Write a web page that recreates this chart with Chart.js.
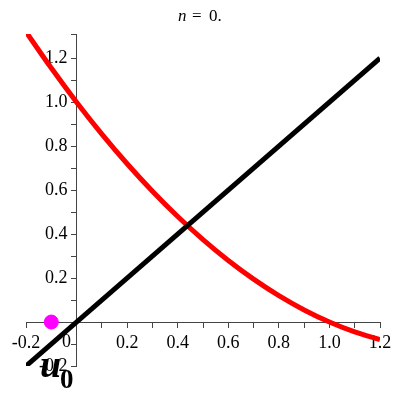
<!DOCTYPE html>
<html>
<head>
<meta charset="utf-8">
<script src="https://cdn.jsdelivr.net/npm/chart.js@4"></script>
<style>
  html, body { margin: 0; padding: 0; background: #fff; }
  #wrap { width: 400px; height: 400px; }
</style>
</head>
<body>
<div id="wrap"><canvas id="chart"></canvas></div>
<script>
// values
const curveX = [-0.2, -0.1, 0, 0.1, 0.2, 0.3, 0.4, 0.5, 0.6, 0.7, 0.8, 0.9, 1.0, 1.1, 1.2];
const curveY = [1.32, 1.155, 1.0, 0.855, 0.72, 0.595, 0.48, 0.375, 0.28, 0.195, 0.12, 0.055, 0.0, -0.045, -0.08];
const diagX = [-0.2, 1.2];
const diagY = [-0.2, 1.2];
const startPoint = [-0.1, 0];
const xTickLabels = ["-0.2", "0.2", "0.4", "0.6", "0.8", "1.0", "1.2"];
const yTickLabels = ["-0.2", "0.2", "0.4", "0.6", "0.8", "1.0", "1.2"];

const serif = "'Liberation Serif', 'DejaVu Serif', serif";

function tickLabel(list, pad) {
  return function(value) {
    let s = value.toFixed(1);
    if (s === "-0.0") s = "0.0";
    // y labels sit flush on the axis, so pad them with spaces
    return list.includes(s) ? s + pad : "";
  };
}

// title with italic n, the u0 label and the stray "0" label
const textPlugin = {
  id: "texts",
  afterDraw(chart) {
    const ctx = chart.ctx;
    ctx.save();
    ctx.fillStyle = "#000";
    ctx.textBaseline = "alphabetic";
    ctx.textAlign = "left";
    ctx.font = "italic 17px " + serif;
    ctx.fillText("n", 178, 21);
    ctx.font = "17px " + serif;
    ctx.fillText("=", 192, 21);
    ctx.fillText("0.", 209, 21);

    ctx.font = "18px " + serif;
    ctx.fillText("0", 62, 347);

    ctx.font = "bold italic 38px " + serif;
    ctx.fillText("u", 40, 377);
    ctx.font = "bold 27px " + serif;
    ctx.fillText("0", 60, 388);
    ctx.restore();
  }
};

const ctx = document.getElementById("chart").getContext("2d");
const myChart = new Chart(ctx, {
  type: "scatter",
  data: {
    datasets: [
      {
        label: "start",
        data: [{ x: startPoint[0], y: startPoint[1] }],
        backgroundColor: "#ff00ff",
        borderColor: "#ff00ff",
        pointRadius: 7,
        order: 0
      },
      {
        label: "f",
        data: curveX.map((x, i) => ({ x: x, y: curveY[i] })),
        showLine: true,
        borderColor: "#ff0000",
        borderWidth: 5,
        pointRadius: 0,
        cubicInterpolationMode: "monotone",
        order: 2
      },
      {
        label: "diag",
        data: diagX.map((x, i) => ({ x: x, y: diagY[i] })),
        showLine: true,
        borderColor: "#000000",
        borderWidth: 5,
        pointRadius: 0,
        order: 1
      }
    ]
  },
  options: {
    responsive: true,
    maintainAspectRatio: false,
    animation: false,
    layout: { padding: { top: 34, left: 26, right: 20, bottom: 34 } },
    plugins: {
      legend: { display: false },
      tooltip: { enabled: false },
      title: { display: false }
    },
    scales: {
      x: {
        type: "linear",
        min: -0.2,
        max: 1.2,
        position: { y: 0 },
        grid: { display: true, drawOnChartArea: false, drawTicks: true, tickLength: 5, color: "#444" },
        border: { display: true, color: "#444", width: 1 },
        ticks: {
          stepSize: 0.1,
          autoSkip: false,
          maxRotation: 0,
          padding: 5,
          color: "#000",
          font: { family: serif, size: 18 },
          callback: tickLabel(xTickLabels, "")
        }
      },
      y: {
        type: "linear",
        min: -0.2,
        max: 1.31,
        position: { x: 0 },
        grid: { display: true, drawOnChartArea: false, drawTicks: true, tickLength: 5, color: "#444" },
        border: { display: true, color: "#444", width: 1 },
        ticks: {
          stepSize: 0.1,
          autoSkip: false,
          color: "#000",
          font: { family: serif, size: 18 },
          callback: tickLabel(yTickLabels, "\u00a0\u00a0")
        }
      }
    }
  },
  plugins: [textPlugin]
});
</script>
</body>
</html>
